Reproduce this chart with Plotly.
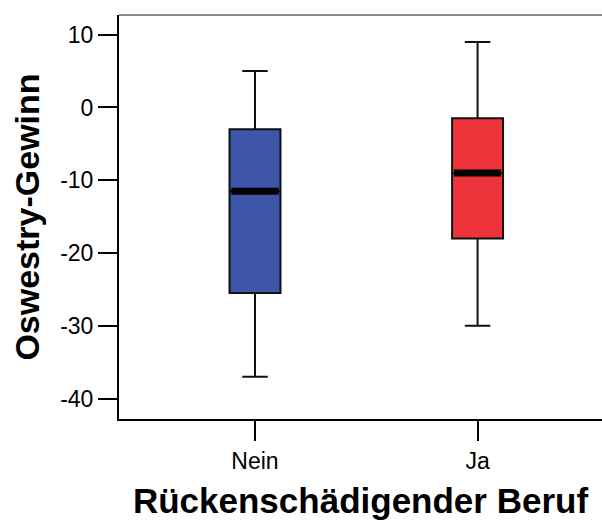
import plotly.graph_objects as go

categories = ["Nein", "Ja"]
upper_whisker = [5, 9]
q3_values = [-3, -1.5]
medians = [-11.5, -9]
q1_values = [-25.5, -18]
lower_whisker = [-37, -30]
box_colors = ["#3D56A8", "#EE333B"]

y_tickvals = [10, 0, -10, -20, -30, -40]

FONT = "Arial, 'Liberation Sans', sans-serif"

fig = go.Figure()
for i, cat in enumerate(categories):
    fig.add_trace(go.Box(
        x=[cat], q1=[q1_values[i]], median=[medians[i]], q3=[q3_values[i]],
        lowerfence=[lower_whisker[i]], upperfence=[upper_whisker[i]],
        fillcolor=box_colors[i], line=dict(color="#111111", width=2),
        whiskerwidth=0.5, width=0.229, boxpoints=False, showlegend=False,
        hoverinfo="skip",
    ))
    # thick median bar
    fig.add_trace(go.Box(
        x=[cat], q1=[medians[i]], median=[medians[i]], q3=[medians[i]],
        lowerfence=[medians[i]], upperfence=[medians[i]],
        fillcolor="black", line=dict(color="black", width=7),
        whiskerwidth=0, width=0.212, boxpoints=False, showlegend=False,
        hoverinfo="skip",
    ))

fig.update_layout(
    width=602, height=523,
    margin=dict(l=119, r=0, t=15, b=104),
    paper_bgcolor="white", plot_bgcolor="white",
    boxmode="overlay",
    font=dict(family=FONT, color="black"),
    xaxis=dict(
        type="category", categoryorder="array", categoryarray=categories,
        range=[-0.611, 1.559],
        showline=True, linecolor="black", linewidth=2,
        ticks="outside", ticklen=20, tickwidth=2, tickcolor="black",
        tickfont=dict(size=23, family=FONT),
        showgrid=False, zeroline=False,
        title=dict(text="<b>Rückenschädigender Beruf</b>",
                   font=dict(size=35, family=FONT), standoff=16),
    ),
    yaxis=dict(
        range=[-42.8, 12.7],
        tickvals=y_tickvals, ticktext=[str(v) for v in y_tickvals],
        showline=True, linecolor="black", linewidth=2,
        ticks="outside", ticklen=19, tickwidth=2, tickcolor="black",
        tickfont=dict(size=23, family=FONT),
        showgrid=False, zeroline=False,
        title=dict(text="<b>Oswestry-Gewinn</b>",
                   font=dict(size=34, family=FONT), standoff=10),
    ),
)

# top border of the plot frame (gray)
fig.add_shape(type="line", xref="paper", yref="paper", x0=0, x1=1, y0=1, y1=1,
              line=dict(color="#888888", width=2))

fig.write_html("out.html")
